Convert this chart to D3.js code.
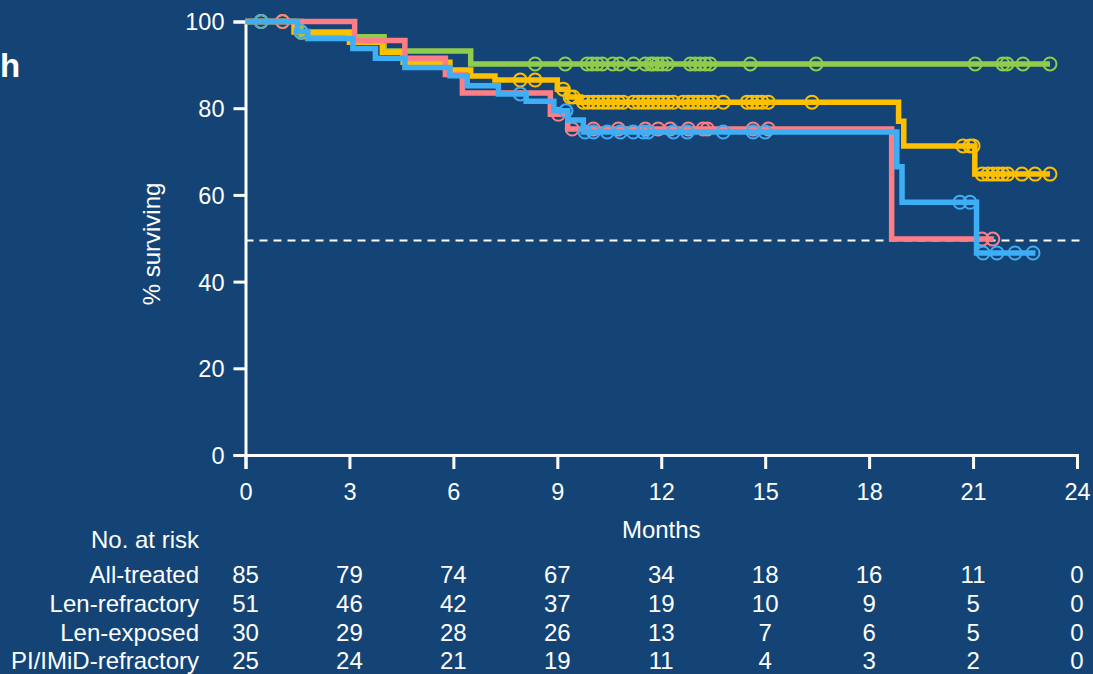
<!DOCTYPE html>
<html>
<head>
<meta charset="utf-8">
<script src="https://cdn.jsdelivr.net/npm/d3@7"></script>
<style>
  body { margin: 0; background: #134475; }
  svg text { font-family: "Liberation Sans", Arial, sans-serif; fill: #fff; }
</style>
</head>
<body>
<div id="chart"></div>
<script>
// survival steps: [month, % surviving after that month]
var lenExposedSteps = [[0, 100], [1.6, 96.5], [4.0, 93.2], [6.5, 90.2], [23.22, 90.2]];
var lenExposedCensor = [0.45, 8.36, 9.23, 9.86, 10.0, 10.15, 10.3, 10.6, 10.8, 11.2, 11.54, 11.7, 11.77, 11.9, 12.03, 12.17,
  12.84, 12.98, 13.12, 13.27, 13.41, 14.57, 16.47, 21.06, 21.86, 21.98, 22.44, 23.22];

var allTreatedSteps = [[0, 100], [1.4, 97.6], [3.0, 95.2], [3.95, 92.9], [4.55, 90.6], [5.9, 88.8], [6.5, 87.4], [7.2, 86.5],
  [9.0, 84.4], [9.3, 82.6], [9.66, 81.4], [18.85, 77.0], [19.0, 71.3], [21.05, 64.8], [23.22, 64.8]];
var allTreatedCensor = [0.45, 1.07, 1.6, 7.93, 8.36, 9.17, 9.37, 9.46, 9.75, 9.89, 10.04, 10.18, 10.33, 10.47, 10.61, 10.76,
  10.9, 11.19, 11.34, 11.48, 11.62, 11.77, 11.91, 12.06, 12.2, 12.35, 12.63, 12.78, 12.92, 13.07, 13.21, 13.35, 13.5,
  13.79, 14.48, 14.62, 14.77, 14.91, 15.09, 16.35, 20.71, 20.91, 21.0, 21.26, 21.43, 21.57, 21.72, 21.86, 22.0, 22.41,
  22.79, 23.22];

var piImidSteps = [[0, 100], [3.15, 95.6], [4.6, 91.5], [5.77, 87.8], [6.26, 83.5], [8.8, 78.6], [9.3, 75.2],
  [18.65, 49.8], [21.6, 49.8]];
var piImidCensor = [1.07, 9.03, 9.43, 10.04, 10.76, 11.54, 11.91, 12.26, 12.78, 13.21, 13.33, 14.65, 15.09, 21.26, 21.57];

var lenRefractorySteps = [[0, 100], [1.5, 97.7], [1.8, 96.1], [3.1, 93.8], [3.75, 91.5], [4.6, 89.4], [5.9, 87.5],
  [6.4, 85.2], [7.3, 83.3], [8.1, 81.6], [8.9, 79.4], [9.3, 77.3], [9.75, 74.5], [18.8, 66.5], [18.95, 58.3],
  [21.1, 46.6], [22.8, 46.6]];
var lenRefractoryCensor = [0.45, 1.6, 7.93, 9.25, 9.8, 10.04, 10.44, 10.82, 11.19, 11.48, 11.62, 12.35, 12.75, 13.79,
  14.65, 15.0, 20.62, 20.91, 21.29, 21.69, 22.21, 22.73];

var medianLine = 49.5;

// number at risk table
var riskMonths = [0, 3, 6, 9, 12, 15, 18, 21, 24];
var riskLabels = ["All-treated", "Len-refractory", "Len-exposed", "PI/IMiD-refractory"];
var riskAllTreated = [85, 79, 74, 67, 34, 18, 16, 11, 0];
var riskLenRefractory = [51, 46, 42, 37, 19, 10, 9, 5, 0];
var riskLenExposed = [30, 29, 28, 26, 13, 7, 6, 5, 0];
var riskPiImid = [25, 24, 21, 19, 11, 4, 3, 2, 0];

var xTicks = [0, 3, 6, 9, 12, 15, 18, 21, 24];
var yTicks = [0, 20, 40, 60, 80, 100];

var W = 1093, H = 674;
var svg = d3.select("#chart").append("svg")
  .attr("width", W).attr("height", H);

svg.append("rect").attr("width", W).attr("height", H).attr("fill", "#134475");

var x = d3.scaleLinear().domain([0, 24]).range([245.5, 1077]);
var y = d3.scaleLinear().domain([0, 100]).range([455, 21.5]);

// axes
var xAxis = svg.append("g")
  .attr("transform", "translate(0,455)")
  .call(d3.axisBottom(x).tickValues(xTicks).tickSize(14).tickPadding(14));
var yAxis = svg.append("g")
  .attr("transform", "translate(245.5,0)")
  .call(d3.axisLeft(y).tickValues(yTicks).tickSize(12).tickPadding(9));
[xAxis, yAxis].forEach(function (g) {
  g.select(".domain").attr("stroke", "#fff").attr("stroke-width", 3);
  g.selectAll(".tick line").attr("stroke", "#fff").attr("stroke-width", 3);
  g.selectAll(".tick text").style("font-size", "23.5px").style("fill", "#fff")
    .style("font-family", "'Liberation Sans', Arial, sans-serif");
});
yAxis.selectAll(".tick text").attr("dy", "0.36em");

// dashed 50% line
svg.append("line")
  .attr("x1", x(0)).attr("x2", 1082)
  .attr("y1", y(medianLine)).attr("y2", y(medianLine))
  .attr("stroke", "#fff").attr("stroke-width", 2)
  .style("stroke-dasharray", "8, 6");

function levelAt(steps, t) {
  var s = steps[0][1];
  steps.forEach(function (d) { if (d[0] <= t) s = d[1]; });
  return s;
}

var series = [
  { steps: lenExposedSteps, censor: lenExposedCensor, color: "#92cc4c" },
  { steps: allTreatedSteps, censor: allTreatedCensor, color: "#ffc000" },
  { steps: piImidSteps, censor: piImidCensor, color: "#ff7e86" },
  { steps: lenRefractorySteps, censor: lenRefractoryCensor, color: "#3eaef5" }
];

var line = d3.line()
  .x(function (d) { return x(d[0]); })
  .y(function (d) { return y(d[1]); })
  .curve(d3.curveStepAfter);

series.forEach(function (s) {
  var g = svg.append("g");
  g.append("path")
    .datum(s.steps)
    .attr("fill", "none")
    .attr("stroke", s.color)
    .attr("stroke-width", 5.5)
    .attr("d", line);
  g.selectAll("circle")
    .data(s.censor)
    .enter().append("circle")
    .attr("cx", function (t) { return x(t); })
    .attr("cy", function (t) { return y(levelAt(s.steps, t)); })
    .attr("r", 6.5)
    .attr("fill", "none")
    .attr("stroke", s.color)
    .attr("stroke-width", 2);
});

// labels
svg.append("text")
  .attr("x", 0).attr("y", 77)
  .style("font-size", "33px").style("font-weight", "bold")
  .text("h");

svg.append("text")
  .attr("transform", "translate(160,244) rotate(-90)")
  .attr("text-anchor", "middle")
  .style("font-size", "24px")
  .text("% surviving");

svg.append("text")
  .attr("x", (x(0) + x(24)) / 2).attr("y", 538)
  .attr("text-anchor", "middle")
  .style("font-size", "24px")
  .text("Months");

svg.append("text")
  .attr("x", 199).attr("y", 548)
  .attr("text-anchor", "end")
  .style("font-size", "24px")
  .text("No. at risk");

var riskRows = [riskAllTreated, riskLenRefractory, riskLenExposed, riskPiImid];
riskRows.forEach(function (row, i) {
  var yy = 583.3 + i * 28.7;
  svg.append("text")
    .attr("x", 199).attr("y", yy)
    .attr("text-anchor", "end")
    .style("font-size", "24px")
    .text(riskLabels[i]);
  svg.selectAll(null)
    .data(row)
    .enter().append("text")
    .attr("x", function (d, j) { return x(riskMonths[j]); })
    .attr("y", yy)
    .attr("text-anchor", "middle")
    .style("font-size", "24px")
    .text(function (d) { return d; });
});
</script>
</body>
</html>
